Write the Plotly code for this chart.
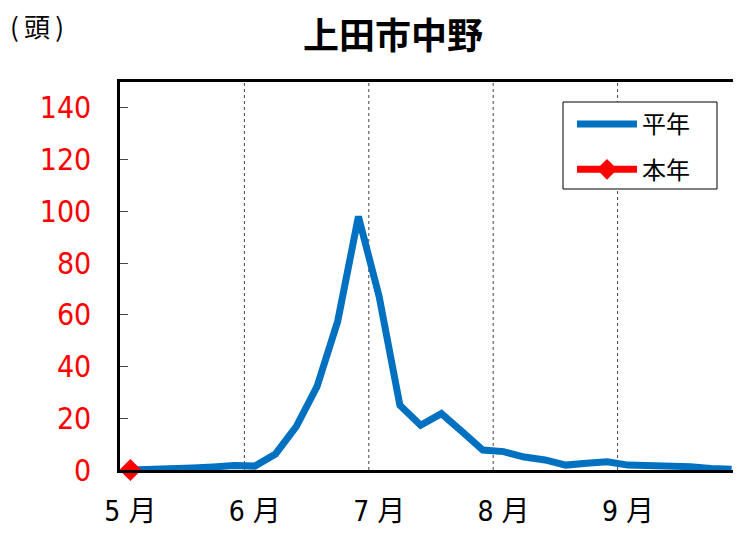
import plotly.graph_objects as go

# --- data ---
month_labels = ["5 月", "6 月", "7 月", "8 月", "9 月"]
periods_per_month = 6
heinen = [0, 0.1, 0.3, 0.8, 1.2, 1.7, 1.5, 6.2, 16.8, 32.2, 57.5, 98, 67, 25,
          17.3, 21.8, 14.8, 7.7, 7.1, 5.0, 3.9, 1.9, 2.6, 3.2, 1.9, 1.7, 1.7,
          1.3, 0.6, 0.3]
honnen = [0]
y_ticks = [0, 20, 40, 60, 80, 100, 120, 140]

n = len(month_labels) * periods_per_month
x_all = list(range(n))
month_starts = [i * periods_per_month for i in range(len(month_labels))]
month_bounds = [i * periods_per_month - 0.5 for i in range(1, len(month_labels))]

JP = "Noto Sans CJK JP"
NARROW = "DejaVu Sans Condensed, Noto Sans CJK JP"

# page body has an 8px margin; compensate so the plot area sits at 120..742 x 82..470
OFF = 8
PL, PT, PR, PB = 120, 82, 742, 470
W, H = 741, 534


def px(x):
    return (x - PL) / (PR - PL)


def py(y):
    return (PB - y) / (PB - PT)


fig = go.Figure()
fig.add_trace(go.Scatter(
    x=x_all[:len(heinen)], y=heinen, name="平年", mode="lines", legendgroup="a",
    line=dict(color="#0070C0", width=7), cliponaxis=False))
fig.add_trace(go.Scatter(
    x=x_all[:len(honnen)], y=honnen, name="本年", mode="lines+markers", legendgroup="b",
    line=dict(color="#FF0000", width=7),
    marker=dict(symbol="diamond", size=17, color="#FF0000"), cliponaxis=False))

for b in month_bounds:
    fig.add_shape(type="line", xref="x", yref="paper", x0=b, x1=b, y0=0, y1=1,
                  line=dict(color="#444444", width=1, dash="dot"), layer="below")

# legend frame
fig.add_shape(type="rect", xref="paper", yref="paper",
              x0=px(563), x1=px(717), y0=py(189), y1=py(102),
              line=dict(color="black", width=1), fillcolor="white", layer="below")

fig.update_layout(
    width=W, height=H,
    margin=dict(l=PL - OFF, r=W + OFF - PR, t=PT - OFF, b=H + OFF - PB, autoexpand=False),
    paper_bgcolor="white", plot_bgcolor="white",
    title=dict(text="<b>上田市中野</b>", x=(393 - OFF) / W, xanchor="center",
               y=1 - (36 - OFF) / H, yanchor="middle", xref="container", yref="container",
               font=dict(family=JP, size=36, color="black")),
    showlegend=True,
    legend=dict(x=px(572), y=py(102), xanchor="left", yanchor="top",
                borderwidth=0, bgcolor="rgba(0,0,0,0)",
                font=dict(family=JP, size=24, color="black"),
                itemwidth=60, tracegroupgap=11),
    xaxis=dict(range=[-0.5, n - 0.5], tickvals=month_starts, ticktext=month_labels,
               showgrid=False, zeroline=False, ticks="", automargin=False,
               showline=True, linecolor="black", linewidth=2.5, mirror=True,
               tickfont=dict(family=NARROW, size=28, color="black"),
               ticklabelstandoff=15),
    yaxis=dict(range=[0, 150], tickvals=y_ticks, showgrid=False, zeroline=False,
               ticks="inside", ticklen=8, tickcolor="#444444", tickwidth=1,
               automargin=False,
               showline=True, linecolor="black", linewidth=2.5, mirror=True,
               tickfont=dict(family=NARROW, size=30, color="#FF0000"),
               ticklabelstandoff=20),
)
fig.add_annotation(text="(\u2009頭\u2009)", xref="paper", yref="paper",
                   x=px(8), y=py(25), xanchor="left", yanchor="middle",
                   showarrow=False, font=dict(family=JP, size=26, color="black"))

fig.write_html("out.html")
